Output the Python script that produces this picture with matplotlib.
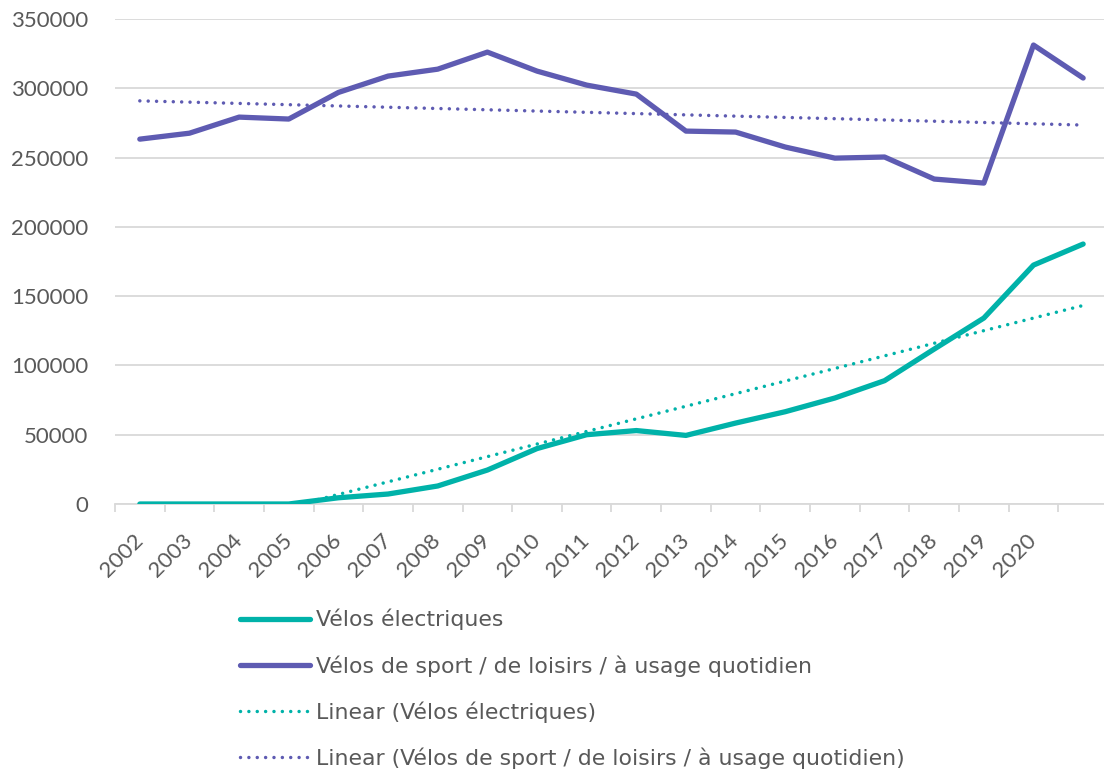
import numpy as np
import matplotlib
matplotlib.use("Agg")
import matplotlib.pyplot as plt

plt.rcParams["font.family"] = ["Lato", "DejaVu Sans"]

years = [str(y) for y in range(2002, 2021)]  # the 20th category has no label
electric = [0, 0, 0, 0, 4500, 7200, 13000, 24500, 40000, 50000,
            53000, 49500, 58400, 66600, 76500, 89000, 111800, 134200, 172400, 187600]
sport = [263300, 267600, 279200, 277800, 297000, 308800, 313800, 326100, 312400, 302300,
         295800, 269100, 268400, 257600, 249600, 250400, 234500, 231600, 331200, 307400]

green = "#00b2a9"
purple = "#5e5bb2"
grey = "#595959"

x = np.arange(len(electric))

fig = plt.figure(figsize=(11.04, 7.73), dpi=100)
ax = fig.add_axes([115 / 1104, 1 - 504 / 773, 1 - 115 / 1104, (504 - 19) / 773])

l1, = ax.plot(x, electric, color=green, lw=3.8, solid_capstyle="round", solid_joinstyle="round", zorder=3)
l2, = ax.plot(x, sport, color=purple, lw=3.8, solid_capstyle="round", solid_joinstyle="round", zorder=3)

# linear trend lines
dots = (0, (0.01, 2.4))
fe = np.polyfit(x, electric, 1)
fs = np.polyfit(x, sport, 1)
l3, = ax.plot(x, np.polyval(fe, x), color=green, lw=2.5, ls=dots, dash_capstyle="round", zorder=2)
l4, = ax.plot(x, np.polyval(fs, x), color=purple, lw=2.5, ls=dots, dash_capstyle="round", zorder=2)

ax.set_ylim(0, 350000)
ax.set_xlim(-0.5, 19.42)
ax.set_yticks(np.arange(0, 350001, 50000))
ax.yaxis.grid(True, color="#d9d9d9", lw=1.3)
ax.set_axisbelow(True)
for s in ["top", "right", "left"]:
    ax.spines[s].set_visible(False)
ax.spines["bottom"].set_color("#d9d9d9")
ax.spines["bottom"].set_linewidth(1.3)

ax.set_xticks(np.arange(len(years)))
ax.set_xticklabels(years, rotation=45, ha="right", va="center", rotation_mode="anchor")
ax.set_xticks(np.arange(-0.5, 19.5, 1), minor=True)
ax.tick_params(axis="x", which="major", length=0, pad=24, labelsize=16, labelcolor=grey)
ax.tick_params(axis="x", which="minor", length=6, width=1.3, color="#d9d9d9")
ax.tick_params(axis="y", length=0, pad=19, labelsize=16, labelcolor=grey)

leg = fig.legend([l1, l2, l3, l4],
                 ["Vélos électriques",
                  "Vélos de sport / de loisirs / à usage quotidien",
                  "Linear (Vélos électriques)",
                  "Linear (Vélos de sport / de loisirs / à usage quotidien)"],
                 loc="upper left", bbox_to_anchor=(240 / 1104, 1 - 609 / 773),
                 frameon=False, borderpad=0, borderaxespad=0,
                 prop={"family": "DejaVu Sans", "size": 15.8},
                 handlelength=3.2, handletextpad=0.27,
                 labelspacing=1.12, labelcolor=grey)

fig.savefig("out.png", dpi=100)
plt.close(fig)
